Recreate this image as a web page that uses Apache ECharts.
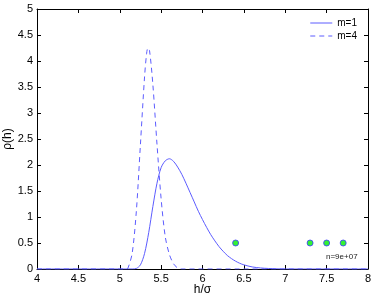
<!DOCTYPE html>
<html><head><meta charset="utf-8">
<script src="https://cdn.jsdelivr.net/npm/echarts@6/dist/echarts.min.js"></script>
<style>html,body{margin:0;padding:0;background:#fff}#c{width:374px;height:299px}</style>
</head><body><div id="c"></div>
<script>
const xM1 = [4, 5.0, 5.15, 5.2, 5.25, 5.3, 5.35, 5.4, 5.45, 5.5, 5.55, 5.6, 5.65, 5.7, 5.75, 5.8, 5.85, 5.9, 5.95, 6.0, 6.05, 6.1, 6.15, 6.2, 6.25, 6.3, 6.35, 6.4, 6.45, 6.5, 6.6, 6.7, 6.8, 7.0, 8];
const yM1 = [0, 0, 0, 0.01, 0.08, 0.3, 0.7, 1.2, 1.65, 1.95, 2.08, 2.12, 2.07, 1.96, 1.82, 1.65, 1.47, 1.29, 1.11, 0.95, 0.8, 0.66, 0.54, 0.43, 0.34, 0.26, 0.2, 0.15, 0.11, 0.08, 0.04, 0.02, 0.01, 0, 0];
const xM4 = [4, 5.0, 5.08, 5.1, 5.15, 5.2, 5.25, 5.3, 5.325, 5.34, 5.36, 5.4, 5.45, 5.5, 5.55, 5.6, 5.65, 5.7, 5.75, 8];
const yM4 = [0, 0, 0, 0.02, 0.3, 1.1, 2.4, 3.7, 4.15, 4.25, 4.2, 3.55, 2.4, 1.35, 0.62, 0.28, 0.1, 0.02, 0, 0];
const ptX = [6.4, 7.3, 7.5, 7.7];
const ptY = [0.5, 0.5, 0.5, 0.5];
const xTicks = [4, 4.5, 5, 5.5, 6, 6.5, 7, 7.5, 8];
const yTicks = [0, 0.5, 1, 1.5, 2, 2.5, 3, 3.5, 4, 4.5, 5];
const seriesNames = ['m=1', 'm=4'];
const note = 'n=9e+07';

const lineColor = '#5c5cff';
const font = 'Liberation Sans, Arial, sans-serif';
const chart = echarts.init(document.getElementById('c'));
const zip = (a, b) => a.map((v, i) => [v, b[i]]);
const baseAxis = {
  axisLine: {show: true, onZero: false, lineStyle: {color: '#000', width: 1}},
  axisTick: {show: true, inside: true, length: 4, lineStyle: {color: '#000'}},
  splitLine: {show: false}
};
chart.setOption({
  animation: false,
  grid: {left: 37, right: 6, top: 9, bottom: 30, containLabel: false, outerBoundsMode: 'none'},
  legend: {
    data: seriesNames, right: 12, top: 13, orient: 'vertical', itemGap: 3,
    itemWidth: 22, itemHeight: 9, textStyle: {fontFamily: font, fontSize: 10, color: '#000'},
    itemStyle: {opacity: 0}, lineStyle: {width: 1}
  },
  xAxis: [
    Object.assign({}, baseAxis, {type: 'value', min: 4, max: 8, interval: 0.5, position: 'bottom',
      name: 'h/σ', nameLocation: 'middle', nameGap: 15, nameMoveOverlap: false,
      nameTextStyle: {fontFamily: font, fontSize: 12, color: '#000'},
      axisLabel: {fontFamily: font, fontSize: 11, color: '#000', margin: 4,
        formatter: v => xTicks.includes(+v.toFixed(2)) ? String(v) : ''}}),
    Object.assign({}, baseAxis, {type: 'value', min: 4, max: 8, interval: 0.5, position: 'top', axisLabel: {show: false}})
  ],
  yAxis: [
    Object.assign({}, baseAxis, {type: 'value', min: 0, max: 5, interval: 0.5, position: 'left',
      name: 'ρ(h)', nameLocation: 'middle', nameGap: 23, nameRotate: 90, nameMoveOverlap: false,
      nameTextStyle: {fontFamily: font, fontSize: 12, color: '#000'},
      axisLabel: {fontFamily: font, fontSize: 11, color: '#000', margin: 4,
        formatter: v => yTicks.includes(+v.toFixed(2)) ? String(v) : ''}}),
    Object.assign({}, baseAxis, {type: 'value', min: 0, max: 5, interval: 0.5, position: 'right', axisLabel: {show: false}})
  ],
  series: [
    {name: seriesNames[0], type: 'line', data: zip(xM1, yM1), smooth: 0.3, symbol: 'none',
      lineStyle: {color: lineColor, width: 1}, itemStyle: {color: lineColor}, z: 3},
    {name: seriesNames[1], type: 'line', data: zip(xM4, yM4), smooth: 0.3, symbol: 'none',
      lineStyle: {color: lineColor, width: 1, type: [5, 4]}, itemStyle: {color: lineColor}, z: 3},
    {type: 'scatter', data: zip(ptX, ptY), symbol: 'circle', symbolSize: 6,
      itemStyle: {color: '#00ee00', borderColor: '#3a3aff', borderWidth: 1}, z: 4}
  ],
  graphic: [{type: 'text', left: 326, top: 253, style: {text: note, fontFamily: font, fontSize: 8, fill: '#222'}}]
});
</script></body></html>
